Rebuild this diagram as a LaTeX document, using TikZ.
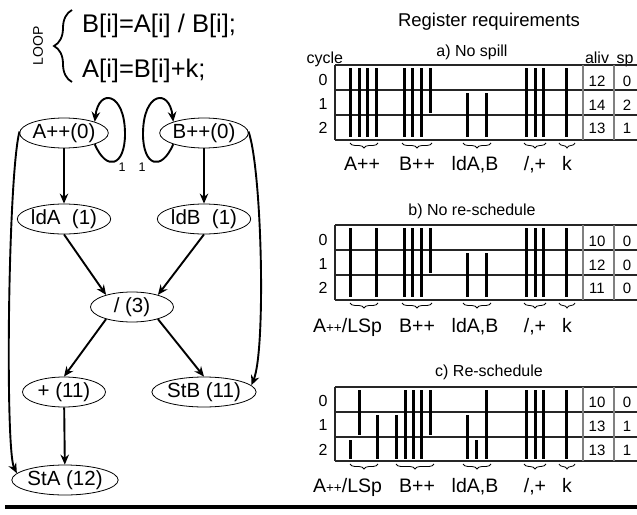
\documentclass[tikz,border=0pt]{standalone}
\usepackage{fontspec}
\setmainfont{Liberation Sans}
\usetikzlibrary{shapes.geometric,arrows.meta,decorations.pathreplacing}
\begin{document}
\begin{tikzpicture}[x=1pt,y=-1pt,
  gnode/.style={ellipse,draw,line width=0.8pt,minimum width=83pt,minimum height=30pt,inner sep=0pt,font=\fontsize{20.5}{21}\selectfont},
  arr/.style={line width=1.9pt,-{Stealth[length=10pt,width=8.5pt]}},
  rbar/.style={line width=3pt},
  tline/.style={line width=1.2pt,black!85},
  gline/.style={line width=1.2pt,black!50},
  ubrace/.style={decorate,decoration={brace,amplitude=5pt},line width=0.8pt},
  lab/.style={font=\fontsize{19.5}{20}\selectfont,anchor=base},
  smalltxt/.style={font=\fontsize{16}{16}\selectfont,anchor=base},
  val/.style={font=\fontsize{15}{15}\selectfont,anchor=base},
]
\useasboundingbox (0,0) rectangle (637,514);
\fill[white] (0,0) rectangle (637,514);

% ---------- loop code ----------
\node[rotate=90,font=\fontsize{14}{14}\selectfont] (loop) at (38,46) {LOOP};
\draw[decorate,decoration={brace,amplitude=18pt},line width=1.8pt] (72,82) -- (72,10);
\node[font=\fontsize{25.5}{26}\selectfont,anchor=base west,inner sep=0pt] (c1) at (82,32) {B[i]=A[i] / B[i];};
\node[font=\fontsize{25.5}{26}\selectfont,anchor=base west,inner sep=0pt] (c2) at (82,77) {A[i]=B[i]+k;};

% ---------- graph ----------
\node[gnode] (A) at (64,133) {A++(0)};
\node[gnode] (B) at (204,133) {B++(0)};
\node[gnode] (lA) at (64,219) {ldA\ \ (1)};
\node[gnode] (lB) at (204,219) {ldB\ \ (1)};
\node[gnode] (D) at (132,307) {/ (3)};
\node[gnode] (P) at (64,392) {+ (11)};
\node[gnode] (SB) at (204,392) {StB (11)};
\node[gnode] (SA) at (65,480) {StA (12)};

\draw[arr] (A) -- (lA);
\draw[arr] (B) -- (lB);
\draw[arr] (lA.south) -- (D.155);
\draw[arr] (lB.south) -- (D.25);
\draw[arr] (D.205) -- (P.north);
\draw[arr] (D.-25) -- (SB.north);
\draw[arr] (P) -- (SA);

\coordinate (aR) at (125,134);
\coordinate (bL) at (143,134);
\draw[arr] (A.-20) .. controls +(12,28) and +(0,32) .. (aR) .. controls +(0,-42) and +(4,-34) .. (A.20);
\draw[arr] (B.200) .. controls +(-12,28) and +(0,32) .. (bL) .. controls +(0,-42) and +(-4,-34) .. (B.160);
\node[font=\fontsize{12.5}{13}\selectfont] (one1) at (122,167) {1};
\node[font=\fontsize{12.5}{13}\selectfont] (one2) at (142,167) {1};

\draw[arr] (A.178) .. controls (8,175) and (5,450) .. (SA.172);
\draw[arr] (B.2) .. controls (262,170) and (266,350) .. (SB.8);

\draw[line width=3.5pt] (5,507) -- (637,507);

% ---------- register requirements ----------
\node[font=\fontsize{18.5}{19}\selectfont,anchor=base] (rr) at (489,27) {Register requirements};

% table a
\begin{scope}[shift={(0,65)}]
\node[smalltxt] (ta) at (472,-9) {a) No spill};
\node[smalltxt,anchor=base west] (cyc) at (303,-2) {cycle};
\node[smalltxt] (aliv) at (597,-2) {aliv};
\node[smalltxt] (sp) at (625,-2) {sp};
\foreach \yy in {0,25,50,75} \draw[tline] (335,\yy) -- (637,\yy);
\draw[tline] (335,0) -- (335,75);
\draw[gline] (583,0) -- (583,75);
\draw[gline] (614,0) -- (614,75);
\foreach \x in {350.7,359,367.7,376,404,412.3,421,526.7,535,543.3,566.7} \draw[rbar] (\x,3) -- (\x,72);
\draw[rbar] (430,3) -- (430,48);
\foreach \x in {467.3,486.7} \draw[rbar] (\x,28) -- (\x,72);
\draw[ubrace] (378,78) -- (350,78);
\draw[ubrace] (432,78) -- (402,78);
\draw[ubrace] (491,78) -- (463,78);
\draw[ubrace] (546,78) -- (524,78);
\draw[ubrace] (575,78) -- (559,78);
\node[lab] (a1) at (362,105) {A++};
\node[lab] (a2) at (417,105) {B++};
\node[lab] (a3) at (475,105) {ldA,B};
\node[lab] (a4) at (535,105) {/,+};
\node[lab] (a5) at (567,105) {k};
\node[smalltxt] (ar0) at (323,20) {0};
\node[smalltxt] (ar1) at (323,44) {1};
\node[smalltxt] (ar2) at (323,68) {2};
\node[val] (av0) at (597,21) {12}; \node[val] (as0) at (627,21) {0};
\node[val] (av1) at (597,45) {14}; \node[val] (as1) at (627,45) {2};
\node[val] (av2) at (597,68) {13}; \node[val] (as2) at (627,68) {1};
\end{scope}

% table b
\begin{scope}[shift={(0,225)}]
\node[smalltxt] (tb) at (472,-10) {b) No re-schedule};
\foreach \yy in {0,25,50,75} \draw[tline] (335,\yy) -- (637,\yy);
\draw[tline] (335,0) -- (335,75);
\draw[gline] (583,0) -- (583,75);
\draw[gline] (614,0) -- (614,75);
\foreach \x in {350.7,376,404,412.3,421,526.7,535,543.3,566.7} \draw[rbar] (\x,3) -- (\x,72);
\draw[rbar] (430,3) -- (430,48);
\foreach \x in {467.3,486.7} \draw[rbar] (\x,28) -- (\x,72);
\draw[ubrace] (378,78) -- (350,78);
\draw[ubrace] (432,78) -- (402,78);
\draw[ubrace] (491,78) -- (463,78);
\draw[ubrace] (546,78) -- (524,78);
\draw[ubrace] (575,78) -- (559,78);
\node[lab] (b1) at (347.5,107) {A{\fontsize{13.5}{14}\selectfont ++}/LSp};
\node[lab] (b2) at (417,107) {B++};
\node[lab] (b3) at (475,107) {ldA,B};
\node[lab] (b4) at (535,107) {/,+};
\node[lab] (b5) at (567,107) {k};
\node[smalltxt] (br0) at (323,20) {0};
\node[smalltxt] (br1) at (323,44) {1};
\node[smalltxt] (br2) at (323,68) {2};
\node[val] (bv0) at (597,21) {10}; \node[val] (bs0) at (627,21) {0};
\node[val] (bv1) at (597,45) {12}; \node[val] (bs1) at (627,45) {0};
\node[val] (bv2) at (597,68) {11}; \node[val] (bs2) at (627,68) {0};
\end{scope}

% table c
\begin{scope}[shift={(0,387)}]
\node[smalltxt] (tc) at (489,-11) {c) Re-schedule};
\foreach \yy in {0,25,50,74} \draw[tline] (335,\yy) -- (637,\yy);
\draw[tline] (335,0) -- (335,74);
\draw[gline] (583,0) -- (583,74);
\draw[gline] (614,0) -- (614,74);
\draw[rbar] (350.7,53) -- (350.7,72);
\draw[rbar] (359,3) -- (359,48);
\draw[rbar] (377.7,28) -- (377.7,72);
\draw[rbar] (396.7,28) -- (396.7,72);
\foreach \x in {405,413.3,421,486.7,526.7,535,543.3,566.7} \draw[rbar] (\x,3) -- (\x,72);
\draw[rbar] (430,3) -- (430,48);
\draw[rbar] (467.3,28) -- (467.3,72);
\draw[rbar] (476.7,53) -- (476.7,72);
\draw[ubrace] (378,77) -- (350,77);
\draw[ubrace] (434,77) -- (396,77);
\draw[ubrace] (491,77) -- (463,77);
\draw[ubrace] (546,77) -- (524,77);
\draw[ubrace] (575,77) -- (559,77);
\node[lab] (c1l) at (347.5,105) {A{\fontsize{13.5}{14}\selectfont ++}/LSp};
\node[lab] (c2l) at (417,105) {B++};
\node[lab] (c3l) at (475,105) {ldA,B};
\node[lab] (c4l) at (535,105) {/,+};
\node[lab] (c5l) at (567,105) {k};
\node[smalltxt] (cr0) at (323,19) {0};
\node[smalltxt] (cr1) at (323,43) {1};
\node[smalltxt] (cr2) at (323,68) {2};
\node[val] (cv0) at (597,20) {10}; \node[val] (cs0) at (627,20) {0};
\node[val] (cv1) at (597,44) {13}; \node[val] (cs1) at (627,44) {1};
\node[val] (cv2) at (597,68) {13}; \node[val] (cs2) at (627,68) {1};
\end{scope}
\end{tikzpicture}
\end{document}
